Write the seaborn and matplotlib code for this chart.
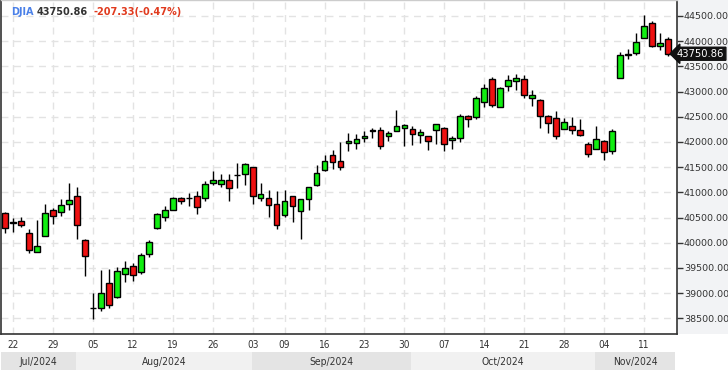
import numpy as np
import pandas as pd
import matplotlib
matplotlib.use("Agg")
import matplotlib.pyplot as plt
import matplotlib.transforms as mtransforms
import seaborn as sns

# dias de pregao (19/jul a 14/nov, sem o feriado de 02/set)
datas = pd.bdate_range("2024-07-19", "2024-11-14").drop(pd.Timestamp("2024-09-02"))

abertura = [40585, 40400, 40440, 40200, 39825, 40135, 40660, 40620, 40760, 40925,
            40065, 38705, 38715, 39210, 38925, 39390, 39545, 39430, 39785, 40285,
            40520, 40660, 40880, 40890, 40935, 40880, 41195, 41175, 41255, 41340,
            41370, 41495, 40880, 40880, 40760, 40555, 40920, 40640, 40865, 41140,
            41435, 41740, 41630, 41970, 41970, 42070, 42245, 42245, 42110, 42225,
            42285, 42265, 42130, 42110, 42245, 42285, 42030, 42070, 42525, 42505,
            42800, 43240, 42700, 43120, 43200, 43240, 42880, 42840, 42525, 42485,
            42265, 42325, 42245, 41950, 41870, 42010, 41830, 43265, 43740, 43775,
            44070, 44370, 43900, 44045]
maxima = [40620, 40500, 40520, 40270, 40450, 40765, 40690, 40865, 41195, 41100,
          40080, 39010, 39460, 39475, 39510, 39635, 39595, 39795, 40065, 40600,
          40725, 40900, 40910, 40985, 41025, 41220, 41415, 41355, 41355, 41575,
          41585, 41500, 41180, 41045, 41020, 41045, 40925, 40865, 41100, 41540,
          41740, 41835, 42000, 42175, 42155, 42220, 42285, 42305, 42225, 42625,
          42350, 42325, 42265, 42125, 42365, 42305, 42125, 42565, 42545, 42905,
          43145, 43280, 43100, 43320, 43340, 43320, 43040, 42845, 42530, 42605,
          42485, 42505, 42465, 41990, 42325, 42030, 42265, 43785, 43840, 44170,
          44515, 44410, 44155, 44085]
minimas = [40200, 40215, 40315, 39800, 39815, 40130, 40375, 40530, 40645, 40070,
           39340, 38480, 38640, 38705, 38905, 39225, 39245, 39385, 39720, 40280,
           40435, 40655, 40760, 40730, 40575, 40830, 41140, 41110, 40830, 41085,
           41140, 40770, 40830, 40510, 40270, 40520, 40415, 40080, 40650, 41125,
           41430, 41470, 41445, 41820, 41860, 42000, 42070, 41870, 42020, 42225,
           41920, 41940, 41970, 41840, 41960, 41820, 41860, 41990, 42305, 42465,
           42695, 42700, 42700, 43020, 43040, 42880, 42720, 42285, 42185, 42050,
           42260, 42165, 42125, 41710, 41865, 41650, 41770, 43260, 43655, 43735,
           44065, 43890, 43830, 43715]
fechamento = [40287.53, 40415.44, 40358.09, 39853.87, 39935.07, 40589.34, 40539.93, 40743.33, 40842.79, 40347.97,
              39737.26, 38703.27, 38997.66, 38763.45, 39446.49, 39497.54, 39357.01, 39765.64, 40008.39, 40563.06,
              40659.76, 40896.53, 40834.97, 40890.49, 40712.78, 41175.08, 41240.52, 41250.50, 41091.42, 41335.05,
              41563.08, 40936.93, 40974.97, 40755.75, 40345.41, 40829.59, 40736.96, 40861.71, 41096.77, 41393.78,
              41622.08, 41606.18, 41503.10, 42025.19, 42063.36, 42124.65, 42208.22, 41914.75, 42175.11, 42313.00,
              42330.15, 42156.97, 42196.52, 42011.59, 42352.75, 41954.24, 42080.37, 42512.00, 42454.12, 42863.86,
              43065.22, 42740.42, 43077.70, 43239.05, 43275.91, 42931.60, 42924.89, 42514.95, 42374.36, 42114.40,
              42387.57, 42233.05, 42141.54, 41763.46, 42052.19, 41794.60, 42221.88, 43729.93, 43729.34, 43988.99,
              44293.13, 43910.98, 43958.19, 43750.86]

ultimo = 43750.86
variacao = -207.33
variacao_pct = -0.47
meses = ["Jul/2024", "Aug/2024", "Sep/2024", "Oct/2024", "Nov/2024"]
niveis_y = [38500, 39000, 39500, 40000, 40500, 41000, 41500, 42000, 42500, 43000, 43500, 44000, 44500]

df = pd.DataFrame({"data": datas, "open": abertura, "high": maxima, "low": minimas, "close": fechamento})
df["pos"] = np.arange(len(df)) - 1  # 22/jul fica na posicao 0
df["alta"] = df["close"] >= df["open"]

sns.set_theme(style="white")
plt.rcParams["font.family"] = ["DejaVu Sans"]

W, H = 728, 370
fig = plt.figure(figsize=(W / 100, H / 100), dpi=100)
fig.patch.set_facecolor("white")

# painel cinza dos precos na direita (atras de tudo)
painel = plt.Rectangle((677 / W, 36 / H), 51 / W, 334 / H, transform=fig.transFigure,
                       facecolor="#f2f3f5", edgecolor="none", zorder=-10)
fig.add_artist(painel)

ax = fig.add_axes([1 / W, 36 / H, 676 / W, 334 / H])
ax.set_facecolor("white")

# grade tracejada
semanas = df.index[df["data"].dt.weekday.diff() < 0].tolist()
ax.set_xticks(df.loc[semanas, "pos"])
ax.set_xticklabels(df.loc[semanas, "data"].dt.strftime("%d"))
ax.set_yticks(niveis_y)
ax.set_yticklabels([f"{v:.2f}" for v in niveis_y])
ax.grid(True, color="#e3e3e3", linestyle=(0, (5, 4)), linewidth=1)
ax.set_axisbelow(True)

# pavios
ax.vlines(df["pos"], df["low"], df["high"], color="black", linewidth=1, zorder=2)

# corpos
corpo = (df["close"] - df["open"]).abs().clip(lower=8)
base = df[["open", "close"]].min(axis=1)
cores = np.where(df["alta"], "#11ee11", "#ee1111")
ax.bar(df["pos"], corpo, bottom=base, width=0.72, color=cores, edgecolor="black", linewidth=1, zorder=3)

ax.set_xlim(-1.5, 83.125)
ax.set_ylim(38190, 44817)

ax.yaxis.tick_right()
ax.tick_params(axis="y", length=4, width=1, color="#333333", labelsize=6.8, labelcolor="#333333", pad=1, right=True)
ax.tick_params(axis="x", length=0, labelsize=7.2, labelcolor="#333333", pad=4)
for lbl in ax.get_xticklabels():
    lbl.set_fontstretch("condensed")

for lado in ["left", "bottom", "right"]:
    ax.spines[lado].set_color("#333333")
    ax.spines[lado].set_linewidth(1.2)
ax.spines["top"].set_color("#cccccc")
ax.spines["top"].set_linewidth(1)

# etiqueta do ultimo preco
trans = mtransforms.blended_transform_factory(ax.transAxes, ax.transData)
ax.text(1.0, ultimo, f"{ultimo:.2f}", transform=trans, ha="left", va="center", fontsize=7.2,
        color="white", zorder=10, clip_on=False,
        bbox=dict(boxstyle="larrow,pad=0.15", facecolor="#111111", edgecolor="#111111"))

# faixa dos meses
ax_mes = fig.add_axes([1 / W, 0, 676 / W, 18 / H], sharex=ax)
ax_mes.set_ylim(0, 1)
ax_mes.axis("off")
inicio_mes = df.index[df["data"].dt.month.diff() != 0].tolist()
limites = [df.loc[i, "pos"] - 0.125 for i in inicio_mes] + [82.875]
limites[0] = -1.45
for k, nome in enumerate(meses):
    cor = "#e4e4e4" if k % 2 == 0 else "#f1f1f1"
    ax_mes.axvspan(limites[k], limites[k + 1], color=cor, lw=0)
    ax_mes.text((limites[k] + limites[k + 1]) / 2, 0.45, nome, ha="center", va="center",
                fontsize=7.4, color="#333333", fontstretch="condensed")

# titulo com o valor atual
fig.text(11 / W, 1 - 12 / H, "DJIA", color="#4a80e8", fontsize=7.0, fontweight="bold", va="center")
fig.text(37 / W, 1 - 12 / H, f"{ultimo:.2f}", color="#333333", fontsize=7.0, fontweight="bold", va="center")
fig.text(93 / W, 1 - 12 / H, f"{variacao:.2f}({variacao_pct:.2f}%)", color="#e03a1e", fontsize=7.0,
         fontweight="bold", va="center")

fig.savefig("out.png", dpi=100, facecolor="white")
